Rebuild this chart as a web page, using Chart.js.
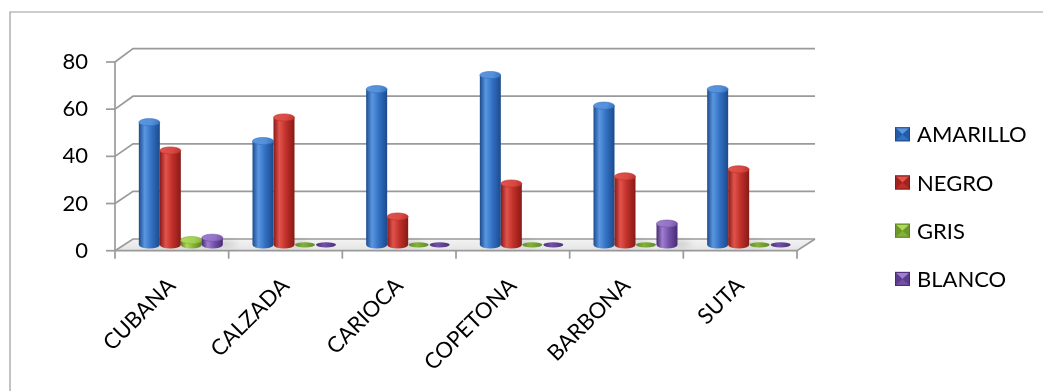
<!DOCTYPE html>
<html>
<head>
<meta charset="utf-8">
<script src="https://cdn.jsdelivr.net/npm/chart.js@4/dist/chart.umd.min.js"></script>
<style>
  html, body { margin: 0; padding: 0; background: #ffffff; }
  #wrap { width: 1043px; height: 391px; }
</style>
</head>
<body>
<div id="wrap"><canvas id="c" width="1043" height="391"></canvas></div>
<script>
// Breeds and the share of each plumage colour
const categories = ['CUBANA', 'CALZADA', 'CARIOCA', 'COPETONA', 'BARBONA', 'SUTA'];
const amarillo = [52, 44, 66, 72, 59, 66];
const negro    = [40, 54, 12, 26, 29, 32];
const gris     = [2, 0, 0, 0, 0, 0];
const blanco   = [3, 0, 0, 0, 9, 0];
const seriesNames = ['AMARILLO', 'NEGRO', 'GRIS', 'BLANCO'];
const yTickValues = [0, 20, 40, 60, 80];

// Cylinder shading per series
const palettes = [
  { edge: '#1c4a8c', mid: '#3270c2', light: '#5a97e0', cap: '#5590d8', flat: '#2a5694' },
  { edge: '#871a17', mid: '#bf2f29', light: '#e2534c', cap: '#d84a44', flat: '#8e2420' },
  { edge: '#5a8220', mid: '#84b238', light: '#aeda5a', cap: '#a4d055', flat: '#5f8a2a' },
  { edge: '#482b74', mid: '#7350a8', light: '#9f7ed0', cap: '#9374c4', flat: '#4a2f78' }
];

const FONT = 'Lato, "Open Sans", sans-serif';
const DEPTH_X = 18;      // horizontal depth of the floor / back wall
const DEPTH_Y = -11.7;   // vertical depth at the floor
const BACK_K = 1.009;    // back wall scale relative to front axis
const LINE = '#9a9a9a';

function backY(yScale, v) {
  const y0 = yScale.getPixelForValue(0);
  return y0 + DEPTH_Y + (yScale.getPixelForValue(v) - y0) * BACK_K;
}

// Outer frame of the chart object
const framePlugin = {
  id: 'frame',
  beforeDraw(chart) {
    const ctx = chart.ctx;
    ctx.save();
    ctx.fillStyle = '#ffffff';
    ctx.fillRect(0, 0, chart.width, chart.height);
    ctx.strokeStyle = '#9c9c9c';
    ctx.lineWidth = 1.2;
    ctx.beginPath();
    ctx.moveTo(10, chart.height + 5);
    ctx.lineTo(10, 12);
    ctx.lineTo(chart.width + 5, 12);
    ctx.stroke();
    ctx.restore();
  }
};

// Floor, back wall gridlines and the front axes
const wallsPlugin = {
  id: 'walls',
  beforeDatasetsDraw(chart) {
    const ctx = chart.ctx;
    const y = chart.scales.y;
    const L = chart.chartArea.left, R = chart.chartArea.right;
    const f0 = y.getPixelForValue(0), b0 = backY(y, 0);
    ctx.save();
    // floor
    const fg = ctx.createLinearGradient(0, b0, 0, f0);
    fg.addColorStop(0, '#f3f3f3');
    fg.addColorStop(1, '#e4e4e4');
    ctx.fillStyle = fg;
    ctx.beginPath();
    ctx.moveTo(L, f0); ctx.lineTo(R, f0);
    ctx.lineTo(R + DEPTH_X, b0); ctx.lineTo(L + DEPTH_X, b0);
    ctx.closePath(); ctx.fill();

    ctx.strokeStyle = LINE;
    ctx.lineWidth = 1.7;
    ctx.lineCap = 'butt';
    // gridlines: diagonal from the axis, then across the back wall
    yTickValues.forEach(v => {
      const fy = y.getPixelForValue(v), by = backY(y, v);
      ctx.beginPath();
      ctx.moveTo(L, fy); ctx.lineTo(L + DEPTH_X, by); ctx.lineTo(R + DEPTH_X, by);
      ctx.stroke();
      // tick mark
      ctx.beginPath();
      ctx.moveTo(L - 9, fy); ctx.lineTo(L, fy);
      ctx.stroke();
    });
    // vertical axis
    ctx.beginPath();
    ctx.moveTo(L, y.getPixelForValue(80)); ctx.lineTo(L, f0);
    ctx.stroke();
    // floor front and right edges
    ctx.beginPath();
    ctx.moveTo(L, f0); ctx.lineTo(R, f0); ctx.lineTo(R + DEPTH_X, b0);
    ctx.stroke();
    // category separators
    const step = (R - L) / categories.length;
    for (let i = 0; i <= categories.length; i++) {
      const px = L + i * step;
      ctx.beginPath();
      ctx.moveTo(px, f0); ctx.lineTo(px, f0 + 8);
      ctx.stroke();
    }
    ctx.restore();
  }
};

function drawCylinder(ctx, cx, top, base, w, pal) {
  const rx = w / 2, ry = 3.6;
  const L = cx - rx, R = cx + rx;
  if (base - top < 0.6) {
    ctx.beginPath();
    ctx.ellipse(cx, base, rx - 0.5, 2.6, 0, 0, Math.PI * 2);
    const dg = ctx.createLinearGradient(L, 0, R, 0);
    dg.addColorStop(0, pal.flat);
    dg.addColorStop(0.4, pal.mid);
    dg.addColorStop(1, pal.flat);
    ctx.fillStyle = dg;
    ctx.fill();
    return;
  }
  const g = ctx.createLinearGradient(L, 0, R, 0);
  g.addColorStop(0, pal.edge);
  g.addColorStop(0.28, pal.light);
  g.addColorStop(0.6, pal.mid);
  g.addColorStop(1, pal.edge);
  ctx.fillStyle = g;
  ctx.beginPath();
  ctx.moveTo(L, top);
  ctx.lineTo(L, base);
  ctx.ellipse(cx, base, rx, ry, 0, Math.PI, 0, true);
  ctx.lineTo(R, top);
  ctx.closePath();
  ctx.fill();
  // top cap
  const cg = ctx.createLinearGradient(L, top - ry, R, top + ry);
  cg.addColorStop(0, pal.light);
  cg.addColorStop(0.6, pal.cap);
  cg.addColorStop(1, pal.mid);
  ctx.fillStyle = cg;
  ctx.beginPath();
  ctx.ellipse(cx, top, rx, ry, 0, 0, Math.PI * 2);
  ctx.fill();
  ctx.strokeStyle = pal.mid;
  ctx.lineWidth = 0.6;
  ctx.stroke();
}

// Cylinders sit half way back on the floor
const cylinderPlugin = {
  id: 'cylinders',
  afterDatasetsDraw(chart) {
    const ctx = chart.ctx;
    ctx.save();
    ctx.translate(DEPTH_X / 2, DEPTH_Y / 2);
    // soft floor shadows
    chart.data.datasets.forEach((ds, di) => {
      chart.getDatasetMeta(di).data.forEach(el => {
        if (el.base - el.y < 0.6) return;
        ctx.save();
        ctx.filter = 'blur(3px)';
        ctx.fillStyle = 'rgba(90,90,90,0.22)';
        ctx.beginPath();
        ctx.ellipse(el.x + el.width * 0.45, el.base - 1, el.width * 0.7, 3.5, 0, 0, Math.PI * 2);
        ctx.fill();
        ctx.restore();
      });
    });
    chart.data.datasets.forEach((ds, di) => {
      const pal = palettes[di];
      chart.getDatasetMeta(di).data.forEach(el => {
        drawCylinder(ctx, el.x, el.y, el.base, el.width, pal);
      });
    });
    ctx.restore();
  }
};

// Legend with bevelled square keys
const legendPlugin = {
  id: 'bevelLegend',
  afterDraw(chart) {
    const ctx = chart.ctx;
    const x0 = 895, y0 = 134.3, step = 48.2, s = 15;
    ctx.save();
    chart.data.datasets.forEach((ds, i) => {
      const pal = palettes[i];
      const cy = y0 + i * step;
      const l = x0, t = cy - 7, r = x0 + s, b = cy + 7;
      const mx = (l + r) / 2, my = t + 7;
      ctx.fillStyle = pal.mid;
      ctx.fillRect(l, t, s, 14);
      // top facet
      ctx.fillStyle = pal.light;
      ctx.beginPath();
      ctx.moveTo(l, t); ctx.lineTo(r, t); ctx.lineTo(mx, my); ctx.closePath(); ctx.fill();
      // side facets
      ctx.fillStyle = pal.edge;
      ctx.globalAlpha = 0.55;
      ctx.beginPath();
      ctx.moveTo(l, t); ctx.lineTo(mx, my); ctx.lineTo(l, b); ctx.closePath(); ctx.fill();
      ctx.beginPath();
      ctx.moveTo(r, t); ctx.lineTo(mx, my); ctx.lineTo(r, b); ctx.closePath(); ctx.fill();
      ctx.globalAlpha = 1;
      ctx.strokeStyle = pal.edge;
      ctx.lineWidth = 1;
      ctx.strokeRect(l + 0.5, t + 0.5, s - 1, 13);
      ctx.fillStyle = '#000000';
      ctx.font = '22px ' + FONT;
      ctx.textBaseline = 'middle';
      ctx.textAlign = 'left';
      ctx.fillText(ds.label, 917, cy + 1);
    });
    ctx.restore();
  }
};

const seriesValues = [amarillo, negro, gris, blanco];

new Chart(document.getElementById('c'), {
  type: 'bar',
  data: {
    labels: categories,
    datasets: seriesNames.map((name, i) => ({
      label: name,
      data: seriesValues[i],
      backgroundColor: 'rgba(0,0,0,0)',
      borderWidth: 0,
      categoryPercentage: 0.739,
      barPercentage: 1.0
    }))
  },
  options: {
    responsive: false,
    animation: false,
    devicePixelRatio: 1,
    layout: { padding: { top: 62, right: 246, left: 0, bottom: 0 } },
    plugins: {
      legend: { display: false },
      tooltip: { enabled: false }
    },
    scales: {
      x: {
        grid: { display: false, drawTicks: false },
        border: { display: false },
        ticks: {
          color: '#000000',
          font: { family: FONT, size: 22 },
          minRotation: 45,
          maxRotation: 45,
          autoSkip: false,
          padding: 22
        },
        afterFit(s) { s.height = 140.3; }
      },
      y: {
        min: 0,
        max: 80,
        grid: { display: false, drawTicks: false },
        border: { display: false },
        ticks: {
          color: '#000000',
          font: { family: FONT, size: 22 },
          stepSize: 20,
          padding: 27
        },
        afterFit(s) { s.width = 115; }
      }
    }
  },
  plugins: [framePlugin, wallsPlugin, cylinderPlugin, legendPlugin]
});
</script>
</body>
</html>
